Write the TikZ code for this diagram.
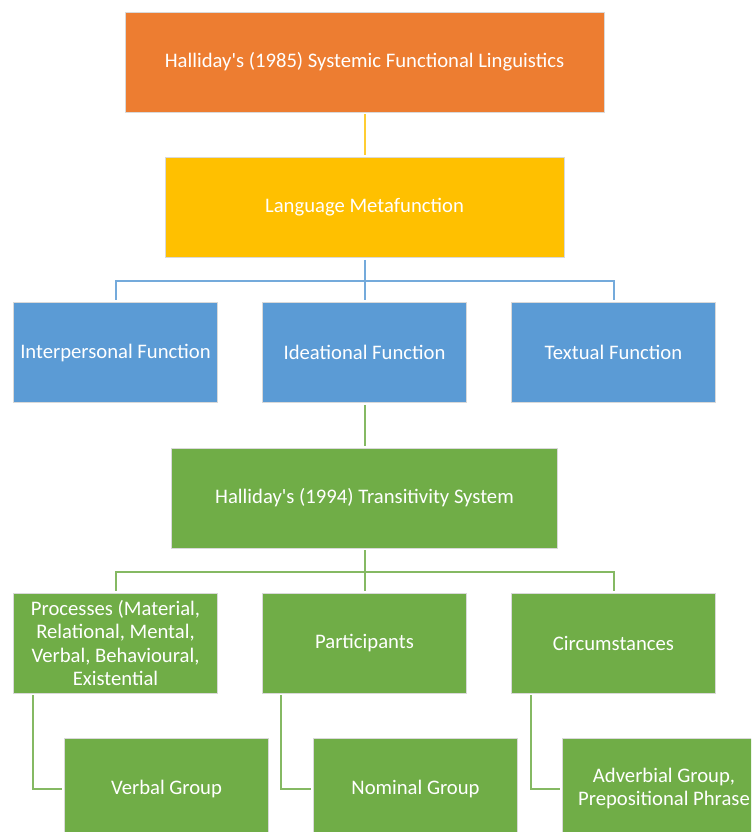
\documentclass[tikz,border=0pt]{standalone}
\usepackage{fontspec}
\setmainfont{Carlito}
\usetikzlibrary{positioning}
\definecolor{boxorange}{RGB}{237,125,49}
\definecolor{boxgold}{RGB}{255,192,0}
\definecolor{boxblue}{RGB}{91,155,213}
\definecolor{boxgreen}{RGB}{112,173,71}
\tikzset{
  block/.style={draw=white!85!black, line width=0.6pt, text=white, align=center,
    inner sep=1pt, minimum height=75pt, font=\fontsize{15.5}{17.3}\selectfont},
  wide/.style={block, minimum width=153pt},
  link/.style={line width=1.5pt, shorten <=1.5pt, shorten >=1.5pt}
}
\begin{document}
\begin{tikzpicture}[x=0.75pt,y=0.75pt,yscale=-1,xscale=1]
\useasboundingbox (0,0) rectangle (751,832);
\clip (0,0) rectangle (751,832);
% Top of the tree
\node [block, fill=boxorange, minimum width=359.25pt] (sfl) at (364.5,62) {Halliday\textquotesingle s (1985) Systemic Functional Linguistics};
\node [block, fill=boxgold, minimum width=299.25pt] (meta) at (364.5,207.5) {Language Metafunction};
% Metafunctions
\node [wide, fill=boxblue] (inter) at (115.5,352.5) {Interpersonal Function};
\node [wide, fill=boxblue] (idea) at (364.5,352.5) {Ideational Function};
\node [wide, fill=boxblue] (textual) at (613.5,352.5) {Textual Function};
% Transitivity
\node [block, fill=boxgreen, minimum width=289pt] (trans) at (364.5,498) {Halliday\textquotesingle s (1994) Transitivity System};
\node [wide, fill=boxgreen] (proc) at (115.5,643) {Processes (Material,\\ Relational, Mental,\\ Verbal, Behavioural,\\ Existential};
\node [wide, fill=boxgreen] (part) at (364.5,643) {Participants};
\node [wide, fill=boxgreen] (circ) at (613.5,643) {Circumstances};
% Groups
\node [wide, fill=boxgreen] (verbal) at (166.5,788.5) {Verbal Group};
\node [wide, fill=boxgreen] (nominal) at (415.5,788.5) {Nominal Group};
\node [wide, fill=boxgreen] (adverb) at (664,788.5) {Adverbial Group,\\ Prepositional Phrase};
% Connectors
\coordinate (barA) at (364.5,281);
\coordinate (barB) at (364.5,572);
\draw [link, boxgold!80!white] (sfl) -- (meta);
\draw [link, boxblue!85!white, shorten >=0pt] (meta) -- (barA);
\draw [link, boxblue!85!white, shorten <=0pt] (barA) -| (inter);
\draw [link, boxblue!85!white, shorten <=0pt] (barA) -- (idea);
\draw [link, boxblue!85!white, shorten <=0pt] (barA) -| (textual);
\draw [link, boxgreen!85!white] (idea) -- (trans);
\draw [link, boxgreen!85!white, shorten >=0pt] (trans) -- (barB);
\draw [link, boxgreen!85!white, shorten <=0pt] (barB) -| (proc);
\draw [link, boxgreen!85!white, shorten <=0pt] (barB) -- (part);
\draw [link, boxgreen!85!white, shorten <=0pt] (barB) -| (circ);
\draw [link, boxgreen!85!white] ([xshift=15pt]proc.south west) |- (verbal.west);
\draw [link, boxgreen!85!white] ([xshift=14.5pt]part.south west) |- (nominal.west);
\draw [link, boxgreen!85!white] ([xshift=15pt]circ.south west) |- (adverb.west);
\end{tikzpicture}
\end{document}
